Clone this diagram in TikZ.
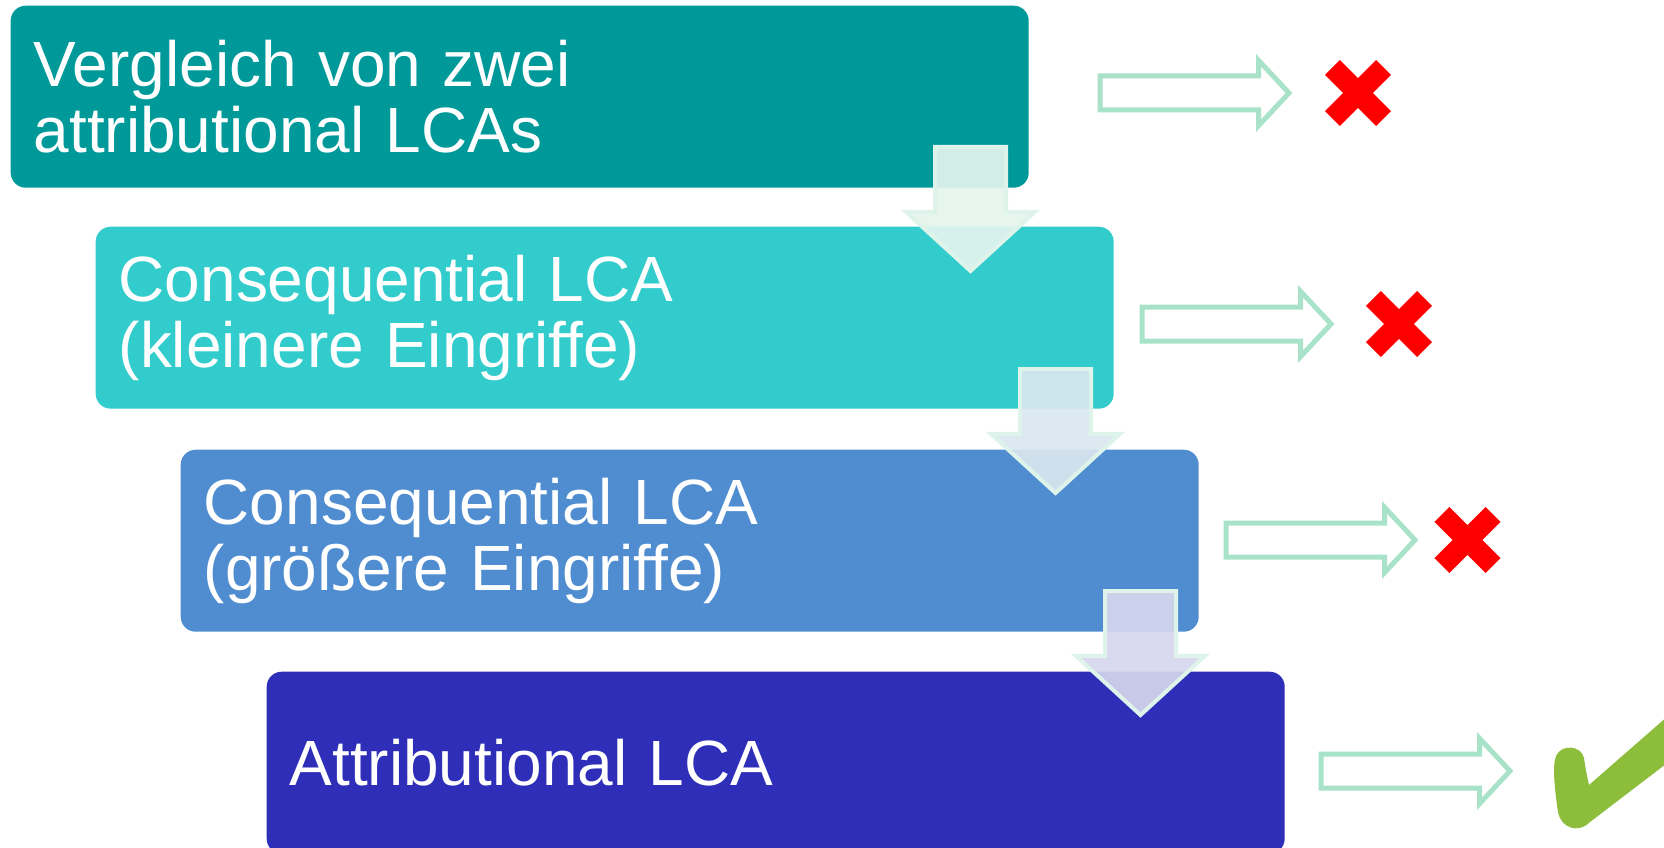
\documentclass[tikz,border=0pt]{standalone}
\usepackage{fontspec}
\newfontfamily\stagefont{Liberation Sans}
\usetikzlibrary{shapes.arrows}

\definecolor{stageA}{RGB}{0,153,153}
\definecolor{stageB}{RGB}{51,204,204}
\definecolor{stageC}{RGB}{80,141,208}
\definecolor{stageD}{RGB}{46,46,184}
\definecolor{mintline}{RGB}{168,226,201}
\definecolor{mintedge}{RGB}{222,244,235}
\definecolor{downA}{RGB}{228,245,238}
\definecolor{downB}{RGB}{218,231,239}
\definecolor{downC}{RGB}{214,214,238}
\definecolor{okgreen}{RGB}{140,190,60}

\tikzset{
  stage/.style={anchor=north west, rounded corners=1.5mm, text=white,
    text width=97.2mm, inner xsep=2.3mm, minimum height=18.2mm, align=left,
    font=\stagefont\fontsize{18.2pt}{18.8pt}\selectfont},
  downarrow/.style={single arrow, shape border rotate=270, anchor=tail,
    draw=mintedge, line width=0.4mm, fill opacity=0.92, inner sep=3.35mm,
    minimum height=12.4mm, single arrow head extend=2.9mm,
    single arrow tip angle=95},
  rightarrow/.style={single arrow, anchor=tail, draw=mintline, line width=0.5mm,
    inner sep=1.45mm, minimum height=18.9mm, single arrow head extend=1.55mm,
    single arrow tip angle=94},
  redcross/.pic={
    \draw[red, line width=2.1mm] (-25.6,-25.6) -- (25.6,25.6) (-25.6,25.6) -- (25.6,-25.6);
  }
}

\begin{document}
\begin{tikzpicture}[x=0.1mm, y=-0.1mm]
  \useasboundingbox (0,0) rectangle (1664,848);
  \clip (0,0) rectangle (1664,848);

  % stages
  \node[stage, fill=stageA] (vgl) at (10,5) {Vergleich von zwei\\attributional LCAs};
  \node[stage, fill=stageB] (klein) at (95,226) {Consequential LCA\\(kleinere Eingriffe)};
  \node[stage, fill=stageC] (gross) at (180,449) {Consequential LCA\\(größere Eingriffe)};
  \node[stage, fill=stageD] (attr) at (266,671) {Attributional LCA};

  % arrows between the stages
  \node[downarrow, fill=downA] (ab1) at (970.5,145) {};
  \node[downarrow, fill=downB] (ab2) at (1055.5,367) {};
  \node[downarrow, fill=downC] (ab3) at (1140.5,589) {};

  % result arrows
  \node[rightarrow] (pf1) at (1097.5,93) {};
  \node[rightarrow] (pf2) at (1139.5,324) {};
  \node[rightarrow] (pf3) at (1223.5,540) {};
  \node[rightarrow] (pf4) at (1318.5,771) {};

  % crosses
  \pic at (1358,93) {redcross};
  \pic at (1399,324) {redcross};
  \pic at (1467.5,540) {redcross};

  % check mark
  \fill[okgreen] (1589,785) .. controls (1586,772) and (1585,765) .. (1584,758)
    .. controls (1581,745) and (1561,744) .. (1556,756)
    .. controls (1552,766) and (1555,792) .. (1558,812)
    .. controls (1561,828) and (1578,834) .. (1590,822)
    -- (1700,738) -- (1700,688) -- cycle;
\end{tikzpicture}
\end{document}
